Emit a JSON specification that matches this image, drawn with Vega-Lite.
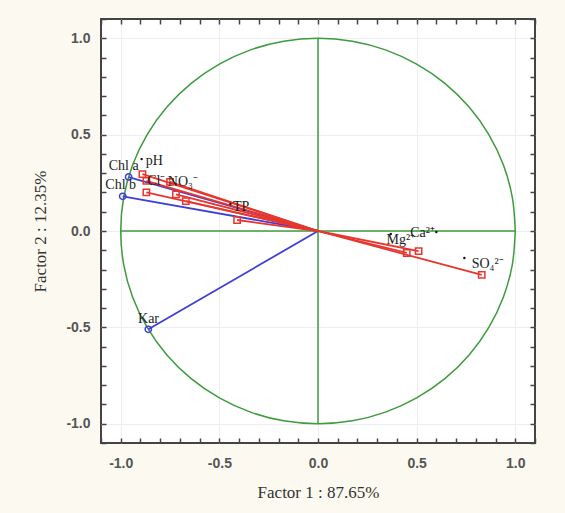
{
  "$schema": "https://vega.github.io/schema/vega-lite/v6.json",
  "width": 434,
  "height": 424,
  "autosize": "none",
  "padding": {"left": 101, "top": 19, "right": 30, "bottom": 70},
  "background": "#fcfaf0",
  "config": {
    "view": {"stroke": "#444", "strokeWidth": 2, "fill": "white"},
    "axis": {
      "labelFont": "Liberation Sans", "labelFontSize": 14, "labelFontWeight": "bold", "labelColor": "#555",
      "titleFont": "Liberation Serif", "titleFontSize": 17, "titleFontWeight": "normal", "titleColor": "#333",
      "domain": false, "tickColor": "#444", "tickWidth": 1.5, "tickSize": -5, "labelOverlap": false, "tickCount": 22, "zindex": 1
    }
  },
  "datasets": {
    "circle": [
      {"o": 0, "x": 1, "y": 0}, {"o": 10, "x": 0.985, "y": 0.174}, {"o": 20, "x": 0.94, "y": 0.342},
      {"o": 30, "x": 0.866, "y": 0.5}, {"o": 40, "x": 0.766, "y": 0.643}, {"o": 50, "x": 0.643, "y": 0.766},
      {"o": 60, "x": 0.5, "y": 0.866}, {"o": 70, "x": 0.342, "y": 0.94}, {"o": 80, "x": 0.174, "y": 0.985},
      {"o": 90, "x": 0, "y": 1}, {"o": 100, "x": -0.174, "y": 0.985}, {"o": 110, "x": -0.342, "y": 0.94},
      {"o": 120, "x": -0.5, "y": 0.866}, {"o": 130, "x": -0.643, "y": 0.766}, {"o": 140, "x": -0.766, "y": 0.643},
      {"o": 150, "x": -0.866, "y": 0.5}, {"o": 160, "x": -0.94, "y": 0.342}, {"o": 170, "x": -0.985, "y": 0.174},
      {"o": 180, "x": -1, "y": 0}, {"o": 190, "x": -0.985, "y": -0.174}, {"o": 200, "x": -0.94, "y": -0.342},
      {"o": 210, "x": -0.866, "y": -0.5}, {"o": 220, "x": -0.766, "y": -0.643}, {"o": 230, "x": -0.643, "y": -0.766},
      {"o": 240, "x": -0.5, "y": -0.866}, {"o": 250, "x": -0.342, "y": -0.94}, {"o": 260, "x": -0.174, "y": -0.985},
      {"o": 270, "x": 0, "y": -1}, {"o": 280, "x": 0.174, "y": -0.985}, {"o": 290, "x": 0.342, "y": -0.94},
      {"o": 300, "x": 0.5, "y": -0.866}, {"o": 310, "x": 0.643, "y": -0.766}, {"o": 320, "x": 0.766, "y": -0.643},
      {"o": 330, "x": 0.866, "y": -0.5}, {"o": 340, "x": 0.94, "y": -0.342}, {"o": 350, "x": 0.985, "y": -0.174},
      {"o": 360, "x": 1, "y": 0}
    ],
    "cross": [
      {"x": -1, "y": 0, "x2": 1, "y2": 0},
      {"x": 0, "y": -1, "x2": 0, "y2": 1}
    ],
    "vec": [
      {"name": "Chl a", "grp": "blue", "x": -0.96, "y": 0.28},
      {"name": "Chl b", "grp": "blue", "x": -0.99, "y": 0.18},
      {"name": "Kar", "grp": "blue", "x": -0.86, "y": -0.51},
      {"name": "pH", "grp": "red", "x": -0.89, "y": 0.295},
      {"name": "Cl-", "grp": "red", "x": -0.87, "y": 0.26},
      {"name": "NO3-", "grp": "red", "x": -0.75, "y": 0.255},
      {"name": "v7", "grp": "red", "x": -0.87, "y": 0.2},
      {"name": "v8", "grp": "red", "x": -0.72, "y": 0.19},
      {"name": "v9", "grp": "red", "x": -0.67, "y": 0.155},
      {"name": "TP", "grp": "red", "x": -0.41, "y": 0.057},
      {"name": "Mg2+", "grp": "red", "x": 0.45, "y": -0.114},
      {"name": "Ca2+", "grp": "red", "x": 0.51, "y": -0.104},
      {"name": "SO4", "grp": "red", "x": 0.83, "y": -0.228}
    ],
    "labels": [
      {"t": "Chl a", "x": -0.985, "y": 0.337},
      {"t": "pH", "x": -0.83, "y": 0.363},
      {"t": "Chl b", "x": -1.0, "y": 0.238},
      {"t": "Cl⁻", "x": -0.82, "y": 0.259},
      {"t": "NO₃⁻", "x": -0.685, "y": 0.254},
      {"t": "TP", "x": -0.39, "y": 0.124},
      {"t": "Mg²⁺", "x": 0.42, "y": -0.045},
      {"t": "Ca²⁺", "x": 0.53, "y": -0.012},
      {"t": "SO₄²⁻", "x": 0.86, "y": -0.171},
      {"t": "Kar", "x": -0.859, "y": -0.456}
    ],
    "dots": [
      {"x": -0.894, "y": 0.373},
      {"x": -0.444, "y": 0.14},
      {"x": 0.369, "y": -0.016},
      {"x": 0.6, "y": -0.005},
      {"x": 0.742, "y": -0.14}
    ]
  },
  "layer": [
    {
      "layer": [
        {
          "data": {"name": "cross"},
          "mark": {"type": "rule", "color": "#3d9b3d", "strokeWidth": 1.5},
          "encoding": {
            "x": {
              "field": "x", "type": "quantitative", "title": "Factor 1 : 87.65%",
              "scale": {"domain": [-1.1, 1.1], "nice": false, "zero": false},
              "axis": {
                "orient": "bottom", "tickCount": 22,
                "labelExpr": "abs(datum.value*2 - round(datum.value*2)) < 0.01 ? replace(format(datum.value, '.1f'), '\u2212', '-') : ''",
                "labelPadding": 18, "titlePadding": 14,
                "grid": true, "gridColor": "#eeeeee",
                "gridOpacity": {"condition": {"test": "abs(datum.value*2 - round(datum.value*2)) < 0.01", "value": 1}, "value": 0}
              }
            },
            "y": {
              "field": "y", "type": "quantitative", "title": "Factor 2 : 12.35%",
              "scale": {"domain": [-1.1, 1.1], "nice": false, "zero": false},
              "axis": {
                "orient": "left", "tickCount": 22,
                "labelExpr": "abs(datum.value*2 - round(datum.value*2)) < 0.01 ? replace(format(datum.value, '.1f'), '\u2212', '-') : ''",
                "labelPadding": 16, "titlePadding": 16,
                "grid": true, "gridColor": "#eeeeee",
                "gridOpacity": {"condition": {"test": "abs(datum.value*2 - round(datum.value*2)) < 0.01", "value": 1}, "value": 0}
              }
            },
            "x2": {"field": "x2"},
            "y2": {"field": "y2"}
          }
        },
        {
          "data": {"name": "circle"},
          "mark": {"type": "line", "color": "#3d9b3d", "strokeWidth": 1.5, "interpolate": "catmull-rom"},
          "encoding": {
            "x": {"field": "x", "type": "quantitative"},
            "y": {"field": "y", "type": "quantitative"},
            "order": {"field": "o", "type": "quantitative"}
          }
        },
        {
          "data": {"name": "vec"},
          "mark": {"type": "rule", "strokeWidth": 1.8},
          "encoding": {
            "x": {"field": "x", "type": "quantitative"},
            "y": {"field": "y", "type": "quantitative"},
            "x2": {"datum": 0},
            "y2": {"datum": 0},
            "color": {"field": "grp", "type": "nominal", "scale": {"domain": ["blue", "red"], "range": ["#3f3fd6", "#e8352e"]}, "legend": null}
          }
        },
        {
          "data": {"name": "vec"},
          "mark": {"type": "point", "filled": false, "strokeWidth": 1.5, "size": 40, "opacity": 1},
          "encoding": {
            "x": {"field": "x", "type": "quantitative"},
            "y": {"field": "y", "type": "quantitative"},
            "color": {"field": "grp", "type": "nominal", "scale": {"domain": ["blue", "red"], "range": ["#3f3fd6", "#e8352e"]}, "legend": null},
            "shape": {"field": "grp", "type": "nominal", "scale": {"domain": ["blue", "red"], "range": ["circle", "square"]}, "legend": null}
          }
        },
        {
          "data": {"name": "dots"},
          "mark": {"type": "point", "filled": true, "size": 6, "color": "#111", "opacity": 1},
          "encoding": {
            "x": {"field": "x", "type": "quantitative"},
            "y": {"field": "y", "type": "quantitative"}
          }
        },
        {
          "data": {"name": "labels"},
          "mark": {"type": "text", "font": "Liberation Serif", "fontSize": 14, "color": "#222", "align": "center", "baseline": "middle"},
          "encoding": {
            "x": {"field": "x", "type": "quantitative"},
            "y": {"field": "y", "type": "quantitative"},
            "text": {"field": "t"}
          }
        }
      ]
    },
    {
      "data": {"name": "dots"},
      "mark": {"type": "point", "opacity": 0},
      "encoding": {
        "x": {
          "field": "x", "type": "quantitative",
          "scale": {"domain": [-1.1, 1.1], "nice": false, "zero": false},
          "axis": {"orient": "top", "labels": false, "title": null, "grid": false, "tickCount": 22}
        },
        "y": {
          "field": "y", "type": "quantitative",
          "scale": {"domain": [-1.1, 1.1], "nice": false, "zero": false},
          "axis": {"orient": "right", "labels": false, "title": null, "grid": false, "tickCount": 22}
        }
      }
    }
  ],
  "resolve": {"scale": {"x": "independent", "y": "independent"}}
}
